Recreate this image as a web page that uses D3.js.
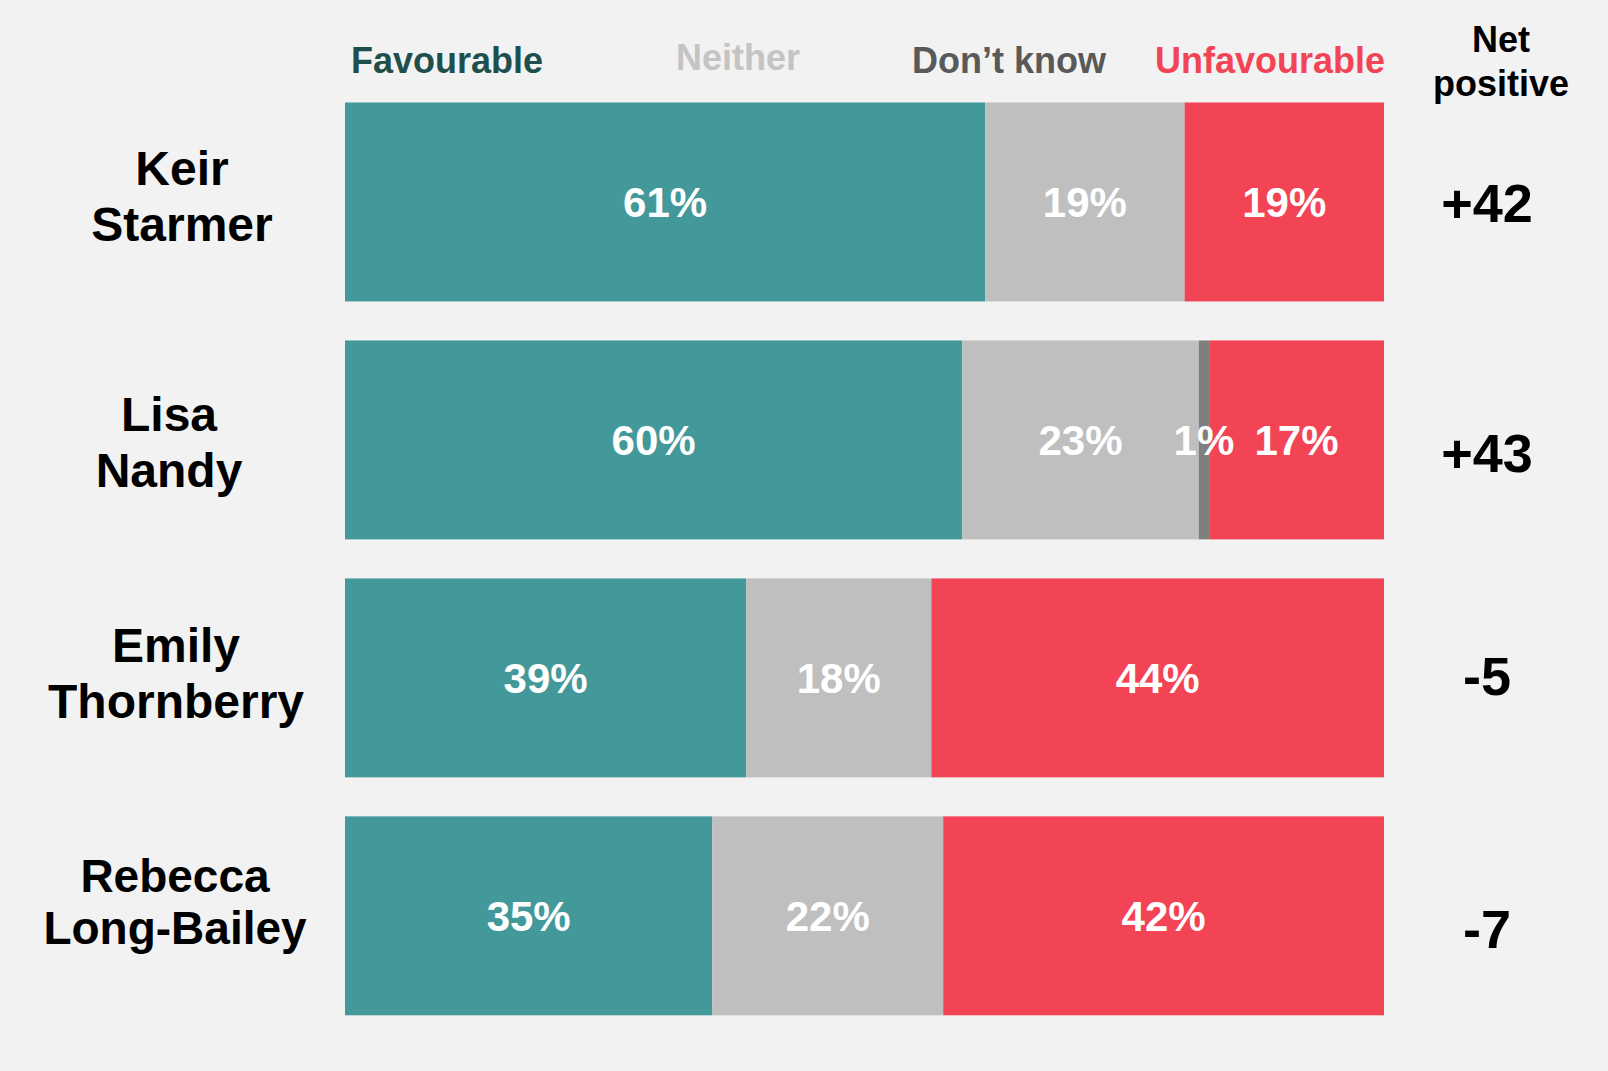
<!DOCTYPE html>
<html>
<head>
<meta charset="utf-8">
<script src="https://cdn.jsdelivr.net/npm/d3@7"></script>
<style>
  html, body { margin: 0; padding: 0; background: #f2f2f2; }
  svg { display: block; font-family: "Liberation Sans", Arial, sans-serif; font-weight: bold; }
</style>
</head>
<body>
<svg id="drawing_region"></svg>
<script>
// data
const people = [["Keir", "Starmer"], ["Lisa", "Nandy"], ["Emily", "Thornberry"], ["Rebecca", "Long-Bailey"]];
const categories = ["Favourable", "Neither", "Don\u2019t know", "Unfavourable"];
const favourable   = [61, 60, 39, 35];
const neither      = [19, 23, 18, 22];
const dontKnow     = [0, 1, 0, 0];
const unfavourable = [19, 17, 44, 42];
const netPositive  = ["+42", "+43", "-5", "-7"];

const colours = ["#43999a", "#bfbfbf", "#7f7f7f", "#f24455"];
const headColours = ["#1f4f4d", "#c4c4c4", "#595959", "#f24455"];

const config = {
    width: 1608,
    height: 1071,
    left: 345,
    right: 1384,
    top: 102.5,
    bottom: 1015.3
};

// small per-row nudges to follow the original slide layout
const nameX = [182, 169, 176, 175];
const nameNudge = [-6, 2, -5, -14.5];
const nameSize = [48, 48, 48, 46];
const nameLead = [56, 56, 56, 52];
const netNudge = [1, 13, -2, 13];

const rows = people.map((p, i) => ({
    key: p.join(" "),
    name: p,
    values: [favourable[i], neither[i], dontKnow[i], unfavourable[i]],
    net: netPositive[i],
    idx: i
}));

const svg = d3.select("#drawing_region")
    .attr("width", config.width)
    .attr("height", config.height);

svg.append("rect")
    .attr("width", config.width)
    .attr("height", config.height)
    .attr("fill", "#f2f2f2");

const yscale = d3.scaleBand()
    .domain(rows.map(d => d.key))
    .range([config.top, config.bottom])
    .paddingInner(0.164)
    .paddingOuter(0);

// header labels
const headX = [447, 738, 1009, 1270];
const headY = [73, 70, 73, 73];
svg.selectAll(".head")
    .data(categories)
    .join("text")
    .attr("class", "head")
    .attr("x", (d, i) => headX[i])
    .attr("y", (d, i) => headY[i])
    .attr("text-anchor", "middle")
    .attr("font-size", 36)
    .attr("fill", (d, i) => headColours[i])
    .text(d => d);

const netHead = svg.append("text")
    .attr("x", 1501)
    .attr("text-anchor", "middle")
    .attr("font-size", 36)
    .attr("fill", "#000");
netHead.append("tspan").attr("x", 1501).attr("y", 52).text("Net");
netHead.append("tspan").attr("x", 1501).attr("y", 96).text("positive");

// rows
const row = svg.selectAll(".row")
    .data(rows)
    .join("g")
    .attr("class", "row")
    .attr("transform", d => `translate(0, ${yscale(d.key)})`);

const bh = yscale.bandwidth();

row.each(function(d) {
    const g = d3.select(this);
    const total = d3.sum(d.values);
    const xscale = d3.scaleLinear()
        .domain([0, total])
        .range([config.left, config.right]);
    const stacked = [];
    let acc = 0;
    d.values.forEach((v, i) => {
        stacked.push({ v: v, x0: acc, x1: acc + v, i: i });
        acc += v;
    });
    const segs = stacked.filter(s => s.v > 0);

    g.selectAll("rect")
        .data(segs)
        .join("rect")
        .attr("x", s => xscale(s.x0))
        .attr("y", 0)
        .attr("width", s => xscale(s.x1) - xscale(s.x0))
        .attr("height", bh)
        .attr("fill", s => colours[s.i]);

    g.selectAll(".val")
        .data(segs)
        .join("text")
        .attr("class", "val")
        .attr("x", s => (xscale(s.x0) + xscale(s.x1)) / 2)
        .attr("y", bh / 2)
        .attr("dy", "0.36em")
        .attr("text-anchor", "middle")
        .attr("font-size", 42)
        .attr("fill", "#fff")
        .text(s => s.v + "%");

    // name
    const fs = nameSize[d.idx];
    const lh = nameLead[d.idx];
    const name = g.append("text")
        .attr("text-anchor", "middle")
        .attr("font-size", fs)
        .attr("fill", "#000");
    d.name.forEach((t, k) => {
        name.append("tspan")
            .attr("x", nameX[d.idx])
            .attr("y", bh / 2 + nameNudge[d.idx] + (k - 0.5) * lh)
            .attr("dy", "0.36em")
            .text(t);
    });

    // net positive
    g.append("text")
        .attr("x", 1487)
        .attr("y", bh / 2 + netNudge[d.idx])
        .attr("dy", "0.36em")
        .attr("text-anchor", "middle")
        .attr("font-size", 54)
        .attr("fill", "#000")
        .text(d.net);
});
</script>
</body>
</html>
